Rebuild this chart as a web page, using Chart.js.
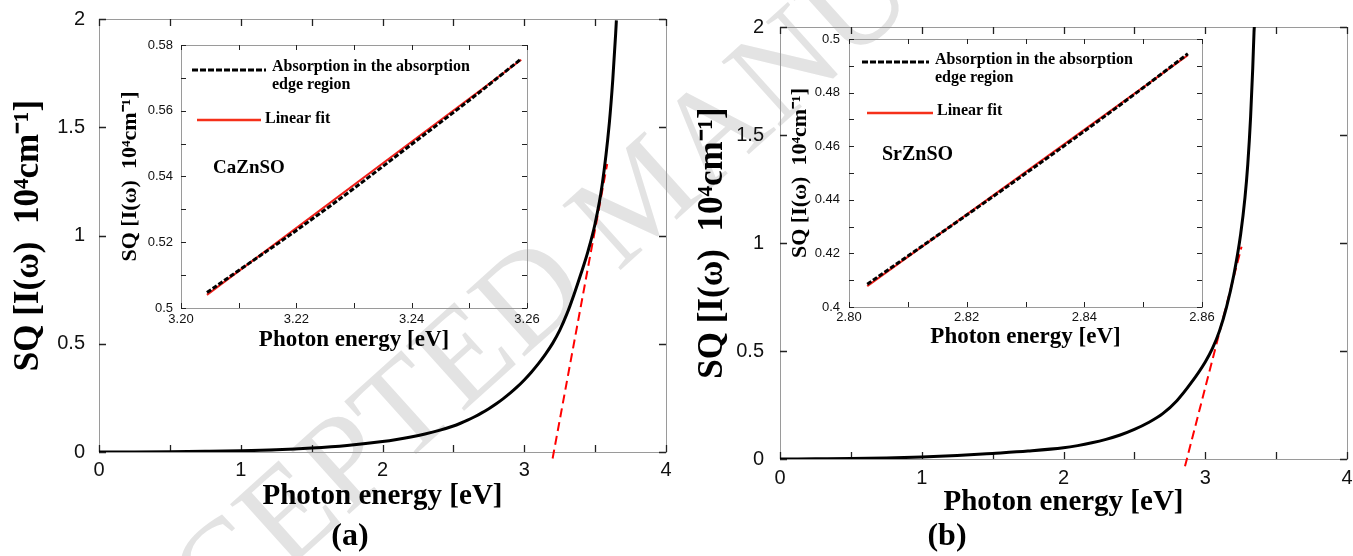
<!DOCTYPE html>
<html><head><meta charset="utf-8">
<script src="https://cdn.jsdelivr.net/npm/chart.js@4.4.0/dist/chart.umd.min.js"></script>
<style>
html,body{margin:0;padding:0;background:#fff;}
#wrap{position:relative;width:1353px;height:556px;overflow:hidden;background:#fff;}
#wrap canvas{position:absolute;}
#wm{position:absolute;left:8px;top:672px;transform-origin:0 0;transform:rotate(-42deg);font:133px 'Liberation Serif',serif;color:#e3e3e3;white-space:nowrap;line-height:1;}
</style></head>
<body><div id="wrap">
<div id="wm">ACCEPTED MANUSCRIPT</div>
<canvas id="cA" width="680" height="556" style="left:0;top:0"></canvas>
<canvas id="cB" width="673" height="556" style="left:680px;top:0"></canvas>
<canvas id="iA" width="430" height="320" style="left:118px;top:35px"></canvas>
<canvas id="iB" width="445" height="325" style="left:785px;top:25px"></canvas>
</div>
<script>
// ---------- data ----------
const mainA_x = [0,0.25,0.5,0.75,1,1.25,1.5,1.75,2,2.1,2.2,2.3,2.4,2.5,2.55,2.6,2.65,2.7,2.75,2.8,2.85,2.9,2.95,3.0,3.05,3.1,3.15,3.2,3.25,3.3,3.35,3.4,3.45,3.5,3.55,3.6,3.625,3.645,3.65];
const mainA_y = [0,0.0004,0.0013,0.003,0.0055,0.01,0.018,0.03,0.048,0.0576,0.0692,0.083,0.0997,0.12,0.1328,0.147,0.1629,0.1805,0.2,0.2215,0.2453,0.2716,0.3006,0.3329,0.3687,0.4082,0.4522,0.5017,0.5617,0.6367,0.7255,0.823,0.928,1.0555,1.2355,1.518,1.724,1.934,1.994];
const mainA_fitX = [3.2, 3.585];
const mainA_fitY = [-0.03, 1.33];

const mainB_x = [0,0.25,0.5,0.75,1,1.25,1.5,1.75,2,2.1,2.2,2.3,2.4,2.5,2.6,2.7,2.8,2.9,3.0,3.05,3.1,3.15,3.2,3.25,3.28,3.3,3.32,3.335,3.344,3.346];
const mainB_y = [0,0.001,0.002,0.0045,0.009,0.016,0.026,0.037,0.052,0.062,0.075,0.091,0.111,0.137,0.169,0.21,0.27,0.352,0.4495,0.511,0.592,0.703,0.847,1.042,1.209,1.364,1.584,1.809,1.976,2.0];
const mainB_fitX = [2.857, 3.256];
const mainB_fitY = [-0.034, 0.983];

const insetA_x = [3.2045, 3.21, 3.22, 3.23, 3.24, 3.25, 3.259];
const insetA_abs = [0.5047, 0.5114, 0.5236, 0.5364, 0.5498, 0.5632, 0.5758];
const insetA_fitX = [3.2045, 3.259];
const insetA_fitY = [0.5040, 0.5755];

const insetB_x = [2.8031, 2.81, 2.82, 2.83, 2.84, 2.85, 2.8576];
const insetB_abs = [0.4085, 0.4190, 0.4343, 0.4498, 0.4656, 0.4818, 0.4945];
const insetB_fitX = [2.8031, 2.8576];
const insetB_fitY = [0.4078, 0.4940];

const xTitle = 'Photon energy [eV]';
const yTitle = 'SQ [I(\u03C9)  10\u2074cm\u207B\u00B9]';
const legendAbs = ['Absorption in the absorption', 'edge region'];
const legendFit = 'Linear fit';
const compounds = ['CaZnSO', 'SrZnSO'];
const panelLabels = ['(a)', '(b)'];

// ---------- helpers ----------
const SERIF = "'Liberation Serif','Times New Roman',serif";
const SANS = "'Liberation Sans',Arial,sans-serif";
Chart.defaults.font.family = SANS;
Chart.defaults.color = '#111';

const pts = (xs, ys) => xs.map((x, i) => ({x, y: ys[i]}));

function frameTicks(len, tickW) {
  return {
    id: 'frameTicks',
    beforeDatasetsDraw(chart) {
      const {ctx, chartArea: a, scales: {x, y}} = chart;
      ctx.save();
      ctx.lineWidth = 1; ctx.strokeStyle = '#9a9a9a';
      ctx.strokeRect(Math.round(a.left) + 0.5, Math.round(a.top) + 0.5, Math.round(a.right - a.left), Math.round(a.bottom - a.top));
      ctx.strokeStyle = '#222'; ctx.lineWidth = tickW;
      ctx.beginPath();
      for (const t of x.ticks) {
        const p = Math.round(x.getPixelForValue(t.value)) + 0.5;
        ctx.moveTo(p, a.bottom); ctx.lineTo(p, a.bottom - len);
        ctx.moveTo(p, a.top); ctx.lineTo(p, a.top + len);
      }
      for (const t of y.ticks) {
        const p = Math.round(y.getPixelForValue(t.value)) + 0.5;
        ctx.moveTo(a.left, p); ctx.lineTo(a.left + len, p);
        ctx.moveTo(a.right, p); ctx.lineTo(a.right - len, p);
      }
      ctx.stroke(); ctx.restore();
    }
  };
}

function decor(items) {
  return {
    id: 'decor',
    afterDraw(chart) {
      const ctx = chart.ctx;
      ctx.save();
      for (const it of items) {
        if (it.line) {
          ctx.beginPath();
          ctx.strokeStyle = it.color; ctx.lineWidth = it.width;
          ctx.setLineDash(it.dash || []);
          ctx.moveTo(it.line[0], it.line[1]); ctx.lineTo(it.line[2], it.line[3]);
          ctx.stroke();
          ctx.setLineDash([]);
        } else {
          ctx.font = it.font; ctx.fillStyle = it.color || '#000';
          ctx.textAlign = it.align || 'left'; ctx.textBaseline = 'middle';
          ctx.fillText(it.text, it.x, it.y);
        }
      }
      ctx.restore();
    }
  };
}

function mainChart(id, xs, ys, fx, fy, g, extra) {
  return new Chart(document.getElementById(id), {
    type: 'scatter',
    data: {datasets: [
      {data: pts(xs, ys), showLine: true, borderColor: '#000', borderWidth: 3, pointRadius: 0, cubicInterpolationMode: 'monotone'},
      {data: pts(fx, fy), showLine: true, borderColor: '#ff0000', borderWidth: 2, borderDash: [9, 5], pointRadius: 0, clip: false}
    ]},
    options: {
      responsive: false, animation: false, events: [],
      layout: {padding: {left: 0, top: g.top, right: g.right, bottom: 0}},
      plugins: {legend: {display: false}, tooltip: {enabled: false}},
      scales: {
        x: {type: 'linear', min: 0, max: 4,
          grid: {display: false, drawTicks: false}, border: {display: false},
          ticks: {stepSize: 0.5, autoSkip: false, maxRotation: 0, padding: g.xPad, color: '#111', font: {size: 20},
            callback: v => Number.isInteger(v) ? String(v) : ''},
          title: {display: true, text: xTitle, color: '#000', font: {family: SERIF, size: 29, weight: 'bold', lineHeight: 1}, padding: {top: 0, bottom: g.xTitlePad}},
          afterFit: s => { s.height = g.xH; s.paddingLeft = 0; s.paddingRight = 0; }
        },
        y: {type: 'linear', min: 0, max: 2,
          grid: {display: false, drawTicks: false}, border: {display: false},
          ticks: {stepSize: 0.5, padding: g.yPad, color: '#111', font: {size: 20},
            callback: v => String(Math.round(v * 10) / 10)},
          title: {display: true, text: yTitle, color: '#000', font: {family: SERIF, size: 35, weight: 'bold', lineHeight: 1}, padding: {top: g.yTitlePad, bottom: 0}},
          afterFit: s => { s.width = g.yW; s.paddingTop = 0; s.paddingBottom = 0; }
        }
      }
    },
    plugins: [frameTicks(7, 1.3), decor(extra)]
  });
}

function insetChart(id, xs, ys, fx, fy, g, extra) {
  const even = v => Math.round(v * 100) % 2 === 0;
  return new Chart(document.getElementById(id), {
    type: 'scatter',
    data: {datasets: [
      {data: pts(xs, ys), showLine: true, borderColor: '#000', borderWidth: 3, borderDash: [5, 2], pointRadius: 0, cubicInterpolationMode: 'monotone'},
      {data: pts(fx, fy), showLine: true, borderColor: '#f0201a', borderWidth: 2, pointRadius: 0}
    ]},
    options: {
      responsive: false, animation: false, events: [],
      layout: {padding: {left: 0, top: g.top, right: g.right, bottom: 0}},
      plugins: {legend: {display: false}, tooltip: {enabled: false}},
      scales: {
        x: {type: 'linear', min: g.xmin, max: g.xmax,
          grid: {display: false, drawTicks: false}, border: {display: false},
          ticks: {stepSize: 0.01, autoSkip: false, maxRotation: 0, maxTicksLimit: 20, padding: g.xPad, color: '#111', font: {size: 13},
            callback: v => even(v) ? (Math.round(v * 100) / 100).toFixed(2) : ''},
          title: {display: true, text: xTitle, color: '#000', font: {family: SERIF, size: 23, weight: 'bold', lineHeight: 1}, padding: {top: 0, bottom: g.xTitlePad}},
          afterFit: s => { s.height = g.xH; s.paddingLeft = 0; s.paddingRight = 0; }
        },
        y: {type: 'linear', min: g.ymin, max: g.ymax,
          grid: {display: false, drawTicks: false}, border: {display: false},
          ticks: {stepSize: 0.01, autoSkip: false, maxTicksLimit: 20, padding: g.yPad, color: '#111', font: {size: 13},
            callback: v => even(v) ? String(Math.round(v * 100) / 100) : ''},
          title: {display: true, text: yTitle, color: '#000', font: {family: SERIF, size: 22, weight: 'bold', lineHeight: 1}, padding: {top: g.yTitlePad, bottom: 0}},
          afterFit: s => { s.width = g.yW; s.paddingTop = 0; s.paddingBottom = 0; }
        }
      }
    },
    plugins: [frameTicks(5, 1), decor(extra)]
  });
}

const LEG = 'bold 16px ' + SERIF;

mainChart('cA', mainA_x, mainA_y, mainA_fitX, mainA_fitY,
  {top: 19, right: 14, yW: 99, xH: 104, xPad: 6, xTitlePad: 44.5, yPad: 14, yTitlePad: 11.5},
  [{text: panelLabels[0], x: 350, y: 537, font: 'bold 32px ' + SERIF, align: 'center'}]);

mainChart('cB', mainB_x, mainB_y, mainB_fitX, mainB_fitY,
  {top: 27, right: 6, yW: 100, xH: 97, xPad: 7, xTitlePad: 38.5, yPad: 16, yTitlePad: 15.5},
  [{text: panelLabels[1], x: 267, y: 537, font: 'bold 32px ' + SERIF, align: 'center'}]);

insetChart('iA', insetA_x, insetA_abs, insetA_fitX, insetA_fitY,
  {xmin: 3.2, xmax: 3.26, ymin: 0.5, ymax: 0.58, top: 10, right: 21, yW: 63, xH: 47, xPad: 4, xTitlePad: 3.5, yPad: 8, yTitlePad: 1},
  [
    {line: [74, 35, 148, 35], color: '#000', width: 3, dash: [6, 2]},
    {text: legendAbs[0], x: 154, y: 32, font: LEG},
    {text: legendAbs[1], x: 154, y: 49.5, font: LEG},
    {line: [79, 85, 143, 85], color: '#f5301a', width: 2.5},
    {text: legendFit, x: 147, y: 83.5, font: LEG},
    {text: compounds[0], x: 95, y: 133, font: 'bold 19px ' + SERIF}
  ]);

insetChart('iB', insetB_x, insetB_abs, insetB_fitX, insetB_fitY,
  {xmin: 2.8, xmax: 2.86, ymin: 0.4, ymax: 0.5, top: 14, right: 28, yW: 64, xH: 43, xPad: 3, xTitlePad: 1.5, yPad: 9, yTitlePad: 4},
  [
    {line: [77, 37, 144, 37], color: '#000', width: 3, dash: [6, 2]},
    {text: legendAbs[0], x: 150, y: 34.5, font: LEG},
    {text: legendAbs[1], x: 150, y: 52.5, font: LEG},
    {line: [82, 88, 148, 88], color: '#f5301a', width: 2.5},
    {text: legendFit, x: 152, y: 86, font: LEG},
    {text: compounds[1], x: 97, y: 130, font: 'bold 20px ' + SERIF}
  ]);
</script>
</body></html>
